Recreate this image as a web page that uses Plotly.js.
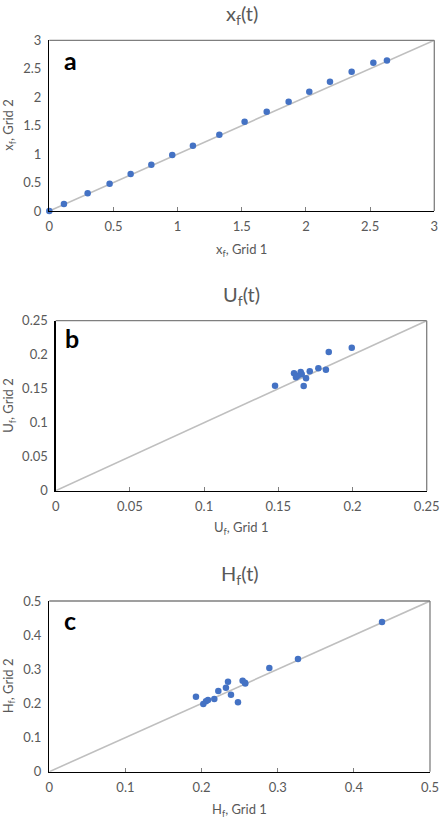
<!DOCTYPE html>
<html><head><meta charset="utf-8">
<script src="https://cdn.plot.ly/plotly-3.0.1.min.js"></script>
<style>html,body{margin:0;padding:0;background:#fff}#c{width:442px;height:818px}</style>
</head><body><div id="c"></div>
<script>
// Panel a: x_f(t)
const xfGrid1 = [0, 0.114, 0.299, 0.470, 0.634, 0.795, 0.958, 1.119, 1.325, 1.522, 1.694, 1.865, 2.026, 2.187, 2.356, 2.525, 2.631];
const xfGrid2 = [0, 0.123, 0.310, 0.480, 0.650, 0.814, 0.984, 1.148, 1.342, 1.570, 1.746, 1.922, 2.097, 2.273, 2.449, 2.607, 2.643];
// Panel b: U_f(t)
const ufGrid1 = [0.1478, 0.1606, 0.1619, 0.1632, 0.1651, 0.1658, 0.1687, 0.1671, 0.1712, 0.1770, 0.1821, 0.1840, 0.1995];
const ufGrid2 = [0.1544, 0.1726, 0.1668, 0.1690, 0.1746, 0.1712, 0.1653, 0.1540, 0.1756, 0.1800, 0.1779, 0.2040, 0.2103];
// Panel c: H_f(t)
const hfGrid1 = [0.1926, 0.2023, 0.2058, 0.2084, 0.2167, 0.2220, 0.2320, 0.2347, 0.2386, 0.2478, 0.2539, 0.2570, 0.2574, 0.2890, 0.3266, 0.4370];
const hfGrid2 = [0.2197, 0.1982, 0.2061, 0.2100, 0.2129, 0.2363, 0.2461, 0.2637, 0.2256, 0.2031, 0.2666, 0.2607, 0.2580, 0.3037, 0.3301, 0.4385];
// axis ranges and ticks
const xfRange = [0, 3], xfTicks = [0, 0.5, 1, 1.5, 2, 2.5, 3];
const ufRange = [0, 0.25], ufTicks = [0, 0.05, 0.1, 0.15, 0.2, 0.25];
const hfRange = [0, 0.5], hfTicks = [0, 0.1, 0.2, 0.3, 0.4, 0.5];
const titles = ['x<sub>f</sub>(t)', 'U<sub>f</sub>(t)', 'H<sub>f</sub>(t)'];
const xTitles = ['x<sub>f</sub>, Grid 1', 'U<sub>f</sub>, Grid 1', 'H<sub>f</sub>, Grid 1'];
const yTitles = ['x<sub>f</sub>, Grid 2', 'U<sub>f</sub>, Grid 2', 'H<sub>f</sub>, Grid 2'];
const letters = ['a', 'b', 'c'];

const W = 442, H = 818;
const FONT = 'Lato, "Open Sans", sans-serif';
const TXT = '#595959';
const BLUE = '#4472C4';
const LINE = '#BFBFBF';

const panels = [
  {gx: xfGrid1, gy: xfGrid2, range: xfRange, ticks: xfTicks, box: [49.3, 434.3, 40.3, 211], titleY: 15, xtY: 250, ytX: 9, letter: [70.5, 60]},
  {gx: ufGrid1, gy: ufGrid2, range: ufRange, ticks: ufTicks, box: [55.7, 426.7, 320.7, 490.7], titleY: 295, xtY: 528, ytX: 9, letter: [71.5, 338]},
  {gx: hfGrid1, gy: hfGrid2, range: hfRange, ticks: hfTicks, box: [49.3, 430, 601, 771.7], titleY: 574, xtY: 810, ytX: 9, letter: [70, 620]}
];

const data = [], shapes = [], annotations = [];
const layout = {
  width: W, height: H, margin: {l: 0, r: 0, t: 0, b: 0},
  paper_bgcolor: '#fff', plot_bgcolor: '#fff', showlegend: false,
  font: {family: FONT, color: TXT, size: 13}
};
panels.forEach((p, i) => {
  const n = i === 0 ? '' : String(i + 1);
  const xa = 'x' + n, ya = 'y' + n;
  const [l, r, t, b] = p.box;
  data.push({x: p.range, y: p.range, xaxis: xa, yaxis: ya, mode: 'lines', type: 'scatter',
    line: {color: LINE, width: 1.6}, hoverinfo: 'skip', cliponaxis: false});
  data.push({x: p.gx, y: p.gy, xaxis: xa, yaxis: ya, mode: 'markers', type: 'scatter',
    marker: {color: BLUE, size: 6.5}, cliponaxis: false});
  layout['xaxis' + n] = {
    domain: [l / W, r / W], range: p.range, anchor: ya, tickvals: p.ticks,
    ticktext: p.ticks.map(String), showgrid: false, zeroline: false,
    showline: true, linecolor: '#000', linewidth: 1.3,
    ticks: 'inside', ticklen: 4, tickcolor: '#7f7f7f', tickwidth: 1,
    tickfont: {family: FONT, size: 13, color: TXT}, ticklabelstandoff: 3, fixedrange: true
  };
  layout['yaxis' + n] = {
    domain: [1 - b / H, 1 - t / H], range: p.range, anchor: xa, tickvals: p.ticks,
    ticktext: p.ticks.map(String), showgrid: false, zeroline: false,
    showline: true, linecolor: '#000', linewidth: 1.3, ticks: '',
    tickfont: {family: FONT, size: 13, color: TXT}, ticklabelstandoff: 4, fixedrange: true
  };
  // top & right frame
  shapes.push({type: 'line', xref: xa + ' domain', yref: ya + ' domain', x0: 0, x1: 1, y0: 1, y1: 1,
    line: {color: '#7f7f7f', width: 1.3}});
  shapes.push({type: 'line', xref: xa + ' domain', yref: ya + ' domain', x0: 1, x1: 1, y0: 0, y1: 1,
    line: {color: '#7f7f7f', width: 1.3}});
  annotations.push({text: titles[i], xref: 'paper', yref: 'paper', x: (l + r) / 2 / W, y: 1 - p.titleY / H,
    xanchor: 'center', yanchor: 'middle', showarrow: false, font: {family: FONT, size: 20, color: TXT}});
  annotations.push({text: xTitles[i], xref: 'paper', yref: 'paper', x: (l + r) / 2 / W, y: 1 - p.xtY / H,
    xanchor: 'center', yanchor: 'middle', showarrow: false, font: {family: FONT, size: 13, color: TXT}});
  annotations.push({text: yTitles[i], xref: 'paper', yref: 'paper', x: p.ytX / W, y: 1 - (t + b) / 2 / H,
    xanchor: 'center', yanchor: 'middle', textangle: -90, showarrow: false, font: {family: FONT, size: 13, color: TXT}});
  annotations.push({text: '<b>' + letters[i] + '</b>', xref: 'paper', yref: 'paper', x: p.letter[0] / W, y: 1 - p.letter[1] / H,
    xanchor: 'center', yanchor: 'middle', showarrow: false, font: {family: FONT, size: 25, color: '#000'}});
});
layout.shapes = shapes;
layout.annotations = annotations;
Plotly.newPlot('c', data, layout, {displayModeBar: false, staticPlot: true});
</script></body></html>
